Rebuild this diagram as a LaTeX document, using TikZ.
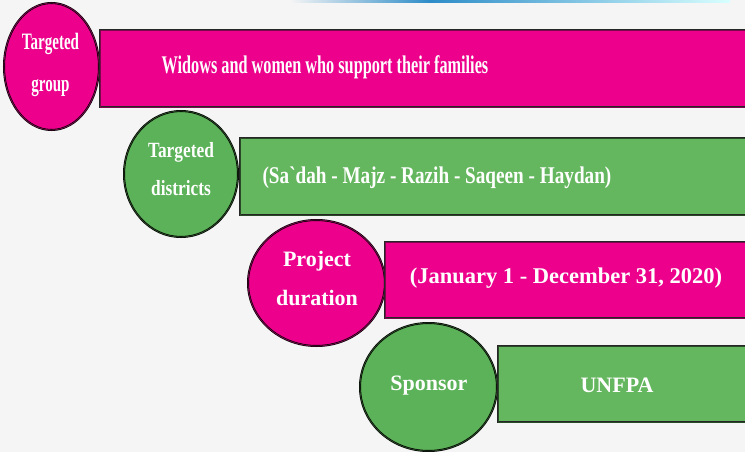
\documentclass[tikz,border=0pt]{standalone}
\usepackage{fontspec}
\setmainfont{Liberation Serif}
\newfontfamily\narrowA[FakeStretch=0.64]{Liberation Serif}
\newfontfamily\narrowB[FakeStretch=0.80]{Liberation Serif}
\usetikzlibrary{shapes.geometric, positioning, calc}
\definecolor{pagebg}{RGB}{245,245,245}
\definecolor{pinkfill}{RGB}{236,0,140}
\definecolor{pinkedge}{RGB}{120,10,75}
\definecolor{greenfill}{RGB}{92,178,88}
\definecolor{greenbar}{RGB}{101,183,95}
\definecolor{greenedge}{RGB}{40,72,38}
\definecolor{topblue}{RGB}{45,140,200}
\tikzstyle{topic} = [ellipse, inner sep=0pt, draw=black, line width=0.6pt, double distance=0.8pt]
\tikzstyle{topictext} = [text=white, align=center, inner sep=0pt]
\tikzstyle{bar} = [rectangle, inner sep=0pt, draw=black!85, line width=0.6pt, double distance=0.7pt, minimum width=660]
\tikzstyle{bartext} = [text=white, inner sep=0pt]

\begin{document}
\begin{tikzpicture}[x=1pt, y=-1pt]

\clip (0,0) rectangle (745,452);
\fill[pagebg] (0,0) rectangle (745,452);

% top strip
\shade[left color=pagebg, right color=topblue] (290,0) rectangle (430,3);
\shade[left color=topblue, right color=cyan!15] (430,0) rectangle (730,3);

% ===== TARGETED GROUP =====
\node (group_circle) [topic, fill=pinkfill, double=pinkedge, minimum width=95, minimum height=127] at (51.5,66.5) {};
\node (group_label) [topictext, font=\narrowA\bfseries\fontsize{23.5}{42}\selectfont] at (50.5,65) {Targeted\\group};
\node (group_bar) [bar, fill=pinkfill, double=pinkedge, minimum height=77, anchor=west] at (100,68.5) {};
\node (group_text) [bartext, font=\narrowA\bfseries\fontsize{25.4}{30}\selectfont] at (325,67) {Widows and women who support their families};

% ===== TARGETED DISTRICTS =====
\node (districts_circle) [topic, fill=greenfill, double=greenedge, minimum width=114, minimum height=126] at (181,174) {};
\node (districts_label) [topictext, font=\narrowB\bfseries\fontsize{21.7}{38}\selectfont] at (181,169) {Targeted\\districts};
\node (districts_bar) [bar, fill=greenbar, double=greenedge, minimum height=77, anchor=west] at (240,176.5) {};
\node (districts_text) [bartext, font=\narrowB\bfseries\fontsize{24}{28}\selectfont] at (437,178) {(Sa`dah - Majz - Razih - Saqeen - Haydan)};

% ===== PROJECT DURATION =====
\node (duration_circle) [topic, fill=pinkfill, double=pinkedge, minimum width=137, minimum height=126] at (316.5,283) {};
\node (duration_label) [topictext, font=\bfseries\fontsize{22}{39}\selectfont] at (317,278) {Project\\duration};
\node (duration_bar) [bar, fill=pinkfill, double=pinkedge, minimum height=76, anchor=west] at (385,280) {};
\node (duration_text) [bartext, font=\bfseries\fontsize{22.5}{26}\selectfont] at (566,278) {(January 1 - December 31, 2020)};

% ===== SPONSOR =====
\node (sponsor_circle) [topic, fill=greenfill, double=greenedge, minimum width=137, minimum height=128] at (428.5,387) {};
\node (sponsor_label) [topictext, font=\bfseries\fontsize{22}{26}\selectfont] at (429,386) {Sponsor};
\node (sponsor_bar) [bar, fill=greenbar, double=greenedge, minimum height=76, anchor=west] at (498,384) {};
\node (sponsor_text) [bartext, font=\bfseries\fontsize{22}{26}\selectfont] at (617,385) {UNFPA};

\end{tikzpicture}
\end{document}
